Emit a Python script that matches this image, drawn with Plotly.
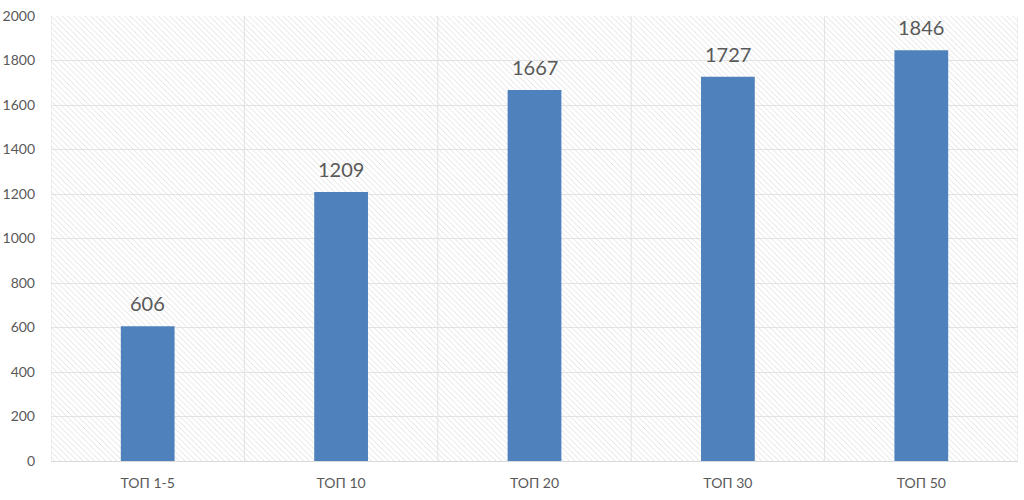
import plotly.graph_objects as go

categories = ["ТОП 1-5", "ТОП 10", "ТОП 20", "ТОП 30", "ТОП 50"]
values = [606, 1209, 1667, 1727, 1846]
y_ticks = [0, 200, 400, 600, 800, 1000, 1200, 1400, 1600, 1800, 2000]

positions = list(range(len(categories)))
n = len(categories)

fig = go.Figure()

# hatched plot background
fig.add_trace(go.Bar(
    x=[(n - 1) / 2], y=[2000], width=[n],
    marker=dict(color="#dedede", line=dict(width=0),
                pattern=dict(shape="\\", fgcolor="#dedede", bgcolor="rgba(255,255,255,0)",
                             size=4, solidity=0.22, fillmode="replace")),
    hoverinfo="skip", showlegend=False,
))

fig.add_trace(go.Bar(
    x=positions, y=values,
    marker=dict(color="#4f81bd", line=dict(width=0)),
    width=0.278, showlegend=False,
))

for p, v in zip(positions, values):
    fig.add_annotation(x=p, y=v, text=str(v), showarrow=False, yanchor="bottom",
                       yshift=9, font=dict(size=20, color="#595959", family="Lato"))

fig.update_layout(
    width=1024, height=500,
    margin=dict(l=51, r=6, t=16, b=39),
    paper_bgcolor="white", plot_bgcolor="white",
    font=dict(family="Lato", color="#595959", size=14),
    barmode="overlay",
    xaxis=dict(range=[-0.5, n - 0.5], tickvals=positions, ticktext=categories,
               showgrid=False, zeroline=False, showline=True, linecolor="#d9d9d9",
               linewidth=1, ticks="", automargin=False, ticklabelstandoff=9,
               tickfont=dict(size=14, color="#595959")),
    yaxis=dict(range=[0, 2000], tickvals=y_ticks, showgrid=True, gridcolor="#e3e3e3",
               gridwidth=1, zeroline=False, showline=False, ticks="", automargin=False,
               ticklabelstandoff=15, tickfont=dict(size=14, color="#595959")),
)

# vertical category gridlines
for i in range(n + 1):
    fig.add_shape(type="line", xref="x", yref="paper", x0=i - 0.5, x1=i - 0.5,
                  y0=0, y1=1, line=dict(color="#e3e3e3", width=1), layer="below")

fig.write_html("out.html", config={"displayModeBar": False},
               post_script="document.body.style.margin='0';document.body.style.overflow='hidden';")
